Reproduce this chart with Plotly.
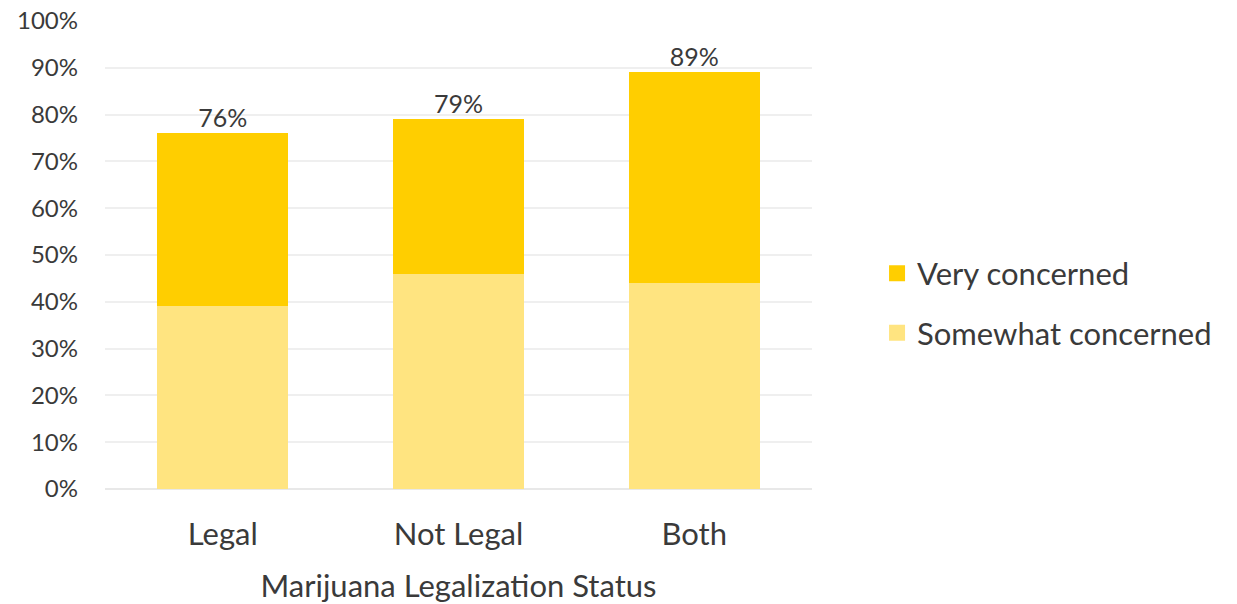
import plotly.graph_objects as go

# Share of respondents concerned, by marijuana legalization status
categories = ["Legal", "Not Legal", "Both"]
somewhat_concerned = [39, 46, 44]
very_concerned = [37, 33, 45]
totals = [s + v for s, v in zip(somewhat_concerned, very_concerned)]

series_names = ["Very concerned", "Somewhat concerned"]
y_ticks = list(range(0, 101, 10))
y_tick_labels = [f"{t}%" for t in y_ticks]

VERY_COLOR = "#FFCE00"
SOMEWHAT_COLOR = "#FFE480"
TEXT_COLOR = "#3A3A3A"
FONT = "Lato, 'Open Sans', sans-serif"

fig = go.Figure()

fig.add_trace(go.Bar(
    x=categories, y=somewhat_concerned, name=series_names[1],
    marker=dict(color=SOMEWHAT_COLOR, line=dict(width=0)),
    showlegend=False, hoverinfo="skip",
))
fig.add_trace(go.Bar(
    x=categories, y=very_concerned, name=series_names[0],
    marker=dict(color=VERY_COLOR, line=dict(width=0)),
    showlegend=False, hoverinfo="skip",
))

# Total labels above each stacked bar
fig.add_trace(go.Scatter(
    x=categories, y=totals, mode="text",
    text=[f"{t}%" for t in totals], textposition="top center",
    textfont=dict(size=25, color=TEXT_COLOR, family=FONT),
    showlegend=False, hoverinfo="skip", cliponaxis=False,
))

# Legend entries with square swatches
for name, color in zip(series_names, [VERY_COLOR, SOMEWHAT_COLOR]):
    fig.add_trace(go.Scatter(
        x=[None], y=[None], mode="markers", name=name,
        marker=dict(symbol="square", size=20, color=color),
        legendgroup=name,
    ))

fig.update_layout(
    width=1237, height=604,
    margin=dict(l=105, r=425, t=21, b=115),
    paper_bgcolor="white", plot_bgcolor="white",
    barmode="stack", bargap=0.444,
    font=dict(family=FONT, color=TEXT_COLOR),
    legend=dict(
        x=1.092, y=0.397, xanchor="left", yanchor="middle",
        font=dict(size=31, color=TEXT_COLOR, family=FONT),
        traceorder="grouped", tracegroupgap=16,
        itemwidth=30,
    ),
    xaxis=dict(
        showgrid=False, zeroline=False, showline=False,
        automargin=False,
        tickfont=dict(size=31, color=TEXT_COLOR),
        ticklabelstandoff=24,
        title=dict(text="Marijuana Legalization Status",
                   font=dict(size=31, color=TEXT_COLOR), standoff=26),
    ),
    yaxis=dict(
        range=[0, 100], tickvals=y_ticks, ticktext=y_tick_labels,
        automargin=False,
        showgrid=True, gridcolor="#EFEFEF", gridwidth=2,
        zeroline=True, zerolinecolor="#E8E8E8", zerolinewidth=2,
        showline=False, ticks="",
        tickfont=dict(size=24, color=TEXT_COLOR),
        ticklabelstandoff=26,
    ),
)

fig.write_html("out.html")
